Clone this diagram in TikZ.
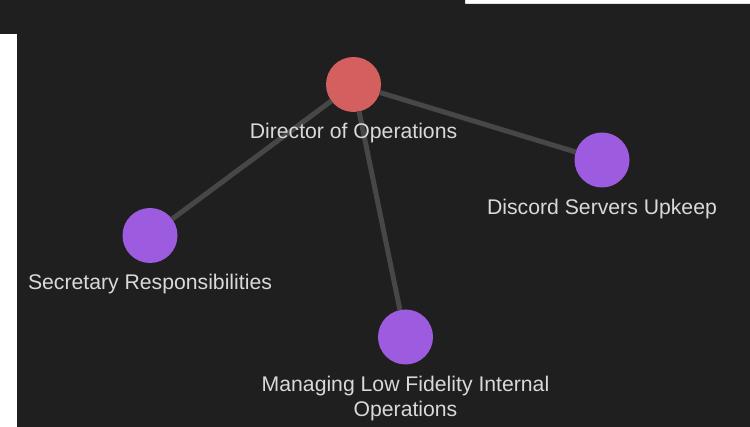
\documentclass[tikz,border=0pt]{standalone}
\usepackage{fontspec}
\setmainfont{Liberation Sans}
\usetikzlibrary{positioning}
\definecolor{bgdark}{HTML}{1F1F1F}
\definecolor{rootred}{HTML}{D45F5F}
\definecolor{leafpurple}{HTML}{9D5CE0}
\definecolor{edgegray}{HTML}{474747}
\definecolor{labelgray}{HTML}{D9D9D9}

\begin{document}
\begin{tikzpicture}[x=1pt, y=-1pt, node distance=11pt,
        dot/.style={circle, minimum size=55pt, inner sep=0pt, outer sep=0pt},
        lbl/.style={text=labelgray, font=\fontsize{21.2}{25}\selectfont, inner sep=0pt, align=center},
        link/.style={draw=edgegray, line width=5pt}]
        \fill[white] (0,0) rectangle (750,427);
        \fill[bgdark] (0,0) -- (465,0) -- (465,4) -- (750,4) -- (750,427) -- (17,427) -- (17,34) -- (0,34) -- cycle;
        \useasboundingbox (0,0) rectangle (750,427);

        \node[dot, fill=rootred]    (dir)  at (353.5,84.5) {};
        \node[dot, fill=leafpurple] (disc) at (602,160)    {};
        \node[dot, fill=leafpurple] (sec)  at (150,235.5)  {};
        \node[dot, fill=leafpurple] (mlfi) at (405.5,337)  {};

        \draw[link] (dir) -- (sec);
        \draw[link] (dir) -- (disc);
        \draw[link] (dir) -- (mlfi);

        \node[lbl, below=of dir]   (dirlbl)  {Director of Operations};
        \node[lbl, below=of disc]  (disclbl) {Discord Servers Upkeep};
        \node[lbl, below=of sec]   (seclbl)  {Secretary Responsibilities};
        \node[lbl, below=of mlfi]  (mlfilbl) {Managing Low Fidelity Internal\\Operations};
      \end{tikzpicture}
\end{document}
